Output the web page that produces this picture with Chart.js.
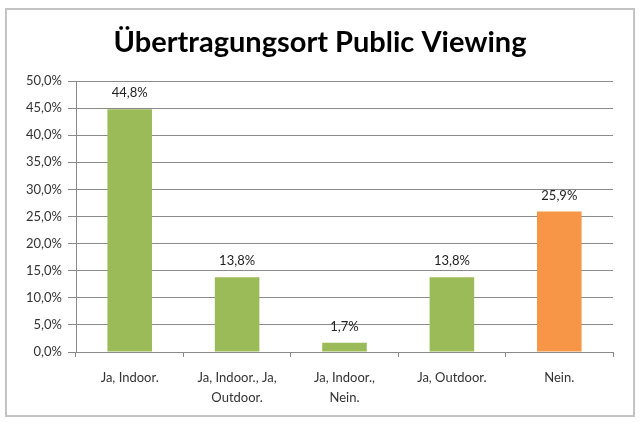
<!DOCTYPE html>
<html>
<head>
<meta charset="utf-8">
<script src="https://cdn.jsdelivr.net/npm/chart.js@4"></script>
<style>
  html, body { margin: 0; padding: 0; background: #fff; }
  #frame { position: absolute; left: 5px; top: 8px; width: 626px; height: 405px; border: 2px solid #c4c4c4; }
  #wrap { position: absolute; left: 0; top: 0; width: 640px; height: 423px; }
</style>
</head>
<body>
<div id="frame"></div>
<div id="wrap"><canvas id="c" width="640" height="423"></canvas></div>
<script>
const categories = ["Ja, Indoor.", ["Ja, Indoor., Ja,", "Outdoor."], ["Ja, Indoor.,", "Nein."], "Ja, Outdoor.", "Nein."];
const values = [44.8, 13.8, 1.7, 13.8, 25.9];
const barColors = ["#9BBB59", "#9BBB59", "#9BBB59", "#9BBB59", "#F79646"];
const titleText = "Übertragungsort Public Viewing";
const yMax = 50;
const yStep = 5;

const fmt = v => v.toFixed(1).replace('.', ',') + '%';

const dataLabels = {
  id: 'dataLabels',
  afterDatasetsDraw(chart) {
    const ctx = chart.ctx;
    const meta = chart.getDatasetMeta(0);
    ctx.save();
    ctx.font = '13px Lato';
    ctx.fillStyle = '#222';
    ctx.textAlign = 'center';
    ctx.textBaseline = 'alphabetic';
    meta.data.forEach((bar, i) => {
      ctx.fillText(fmt(values[i]), bar.x, bar.y - 12);
    });
    ctx.restore();
  }
};

const customTitle = {
  id: 'customTitle',
  afterDraw(chart) {
    const ctx = chart.ctx;
    ctx.save();
    ctx.font = 'bold 29px Lato';
    ctx.fillStyle = '#000';
    ctx.textAlign = 'center';
    ctx.textBaseline = 'middle';
    ctx.fillText(titleText, 320, 43);
    ctx.restore();
  }
};

new Chart(document.getElementById('c'), {
  type: 'bar',
  data: {
    labels: categories,
    datasets: [{
      data: values,
      backgroundColor: barColors,
      borderWidth: 0,
      barPercentage: 0.415,
      categoryPercentage: 1.0
    }]
  },
  options: {
    responsive: false,
    animation: false,
    layout: { padding: { left: 0, right: 27, top: 81, bottom: 0 } },
    plugins: {
      legend: { display: false },
      tooltip: { enabled: false },
      title: { display: false }
    },
    scales: {
      y: {
        min: 0, max: yMax,
        ticks: {
          stepSize: yStep,
          callback: v => fmt(v),
          color: '#333',
          font: { family: 'Lato', size: 13 },
          padding: 6
        },
        grid: { color: '#8a8a8a', tickLength: 8, lineWidth: 1 },
        border: { color: '#8a8a8a' },
        afterFit: s => { s.width = 76; }
      },
      x: {
        ticks: {
          color: '#333',
          font: { family: 'Lato', size: 13, lineHeight: 1.6 },
          padding: 10,
          maxRotation: 0,
          autoSkip: false
        },
        grid: { offset: true, drawOnChartArea: false, color: '#8a8a8a', tickLength: 5 },
        border: { color: '#8a8a8a' },
        afterFit: s => { s.height = 71; }
      }
    }
  },
  plugins: [dataLabels, customTitle]
});
</script>
</body>
</html>
